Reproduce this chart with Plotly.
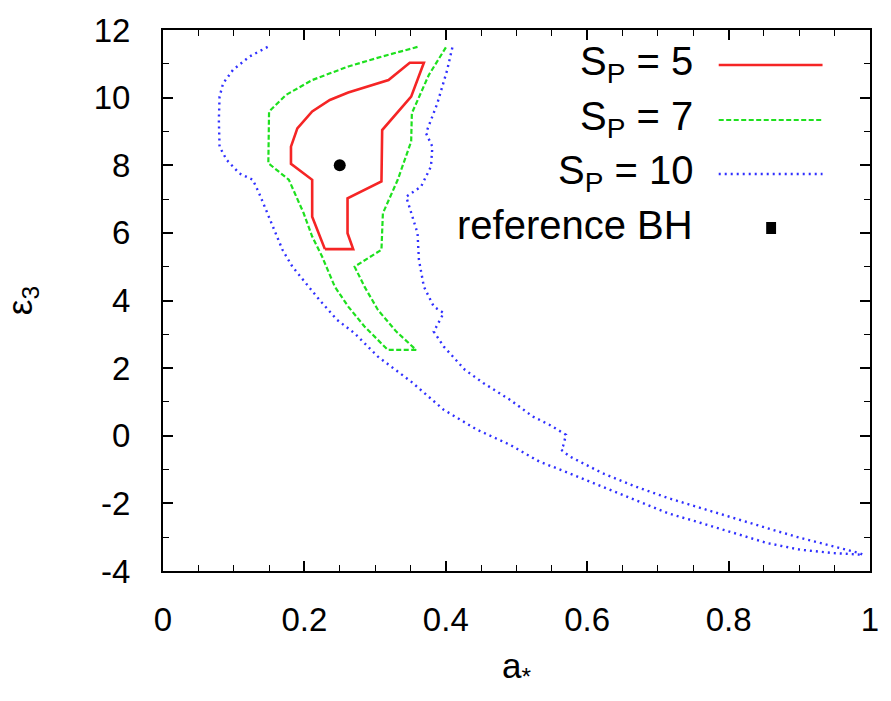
import plotly.graph_objects as go

# Contour of S_P = 5 (closed)
s5_a = [0.229, 0.269, 0.261, 0.261, 0.309, 0.310, 0.351, 0.369, 0.349, 0.319,
        0.262, 0.236, 0.211, 0.190, 0.181, 0.181, 0.211, 0.211, 0.229]
s5_e = [5.52, 5.52, 5.99, 7.02, 7.52, 9.04, 10.03, 11.03, 11.03, 10.52,
        10.15, 9.93, 9.59, 9.09, 8.55, 8.04, 7.57, 6.48, 5.52]

# Contour of S_P = 7 (open at the top edge of the grid)
s7_a = [0.360, 0.309, 0.262, 0.211, 0.174, 0.150, 0.149, 0.178, 0.199, 0.211,
        0.225, 0.243, 0.262, 0.285, 0.318, 0.358, 0.330, 0.304, 0.285, 0.271,
        0.309, 0.311, 0.332, 0.351, 0.352, 0.376, 0.402]
s7_e = [11.50, 11.21, 10.92, 10.52, 10.08, 9.59, 8.06, 7.57, 6.58, 5.89,
        5.30, 4.41, 3.82, 3.23, 2.54, 2.54, 3.08, 3.72, 4.41, 5.00,
        5.50, 6.58, 7.57, 8.70, 9.54, 10.67, 11.55]

# Contour of S_P = 10: outer (left/lower) branch down to the tip
s10_lo_a = [0.148, 0.122, 0.099, 0.085, 0.080, 0.079, 0.080, 0.090, 0.108, 0.127,
            0.136, 0.146, 0.155, 0.169, 0.183, 0.202, 0.222, 0.246, 0.271, 0.304,
            0.351, 0.397, 0.444, 0.491, 0.532, 0.576, 0.621, 0.668, 0.714, 0.761,
            0.808, 0.854, 0.901, 0.948, 0.990]
s10_lo_e = [11.50, 11.21, 10.82, 10.42, 10.03, 9.34, 8.55, 8.16, 7.76, 7.57,
            7.17, 6.68, 6.19, 5.50, 5.00, 4.51, 4.00, 3.43, 3.03, 2.34,
            1.60, 0.77, 0.18, -0.27, -0.76, -1.12, -1.50, -1.89, -2.29, -2.58,
            -2.88, -3.17, -3.37, -3.47, -3.52]
# inner (right/upper) branch, from the tip back up to the top edge
s10_hi_a = [0.985, 0.948, 0.901, 0.854, 0.808, 0.761, 0.714, 0.668, 0.621, 0.575,
            0.563, 0.566, 0.570, 0.547, 0.523, 0.491, 0.453, 0.427, 0.397, 0.383,
            0.397, 0.383, 0.369, 0.362, 0.360, 0.351, 0.344, 0.365, 0.379, 0.381,
            0.372, 0.388, 0.402, 0.410]
s10_hi_e = [-3.47, -3.27, -3.02, -2.73, -2.43, -2.14, -1.84, -1.50, -1.10, -0.61,
            -0.41, -0.30, 0.03, 0.32, 0.57, 1.06, 1.56, 1.95, 2.64, 3.08,
            3.63, 3.82, 4.41, 5.20, 5.99, 6.58, 7.07, 7.37, 7.96, 8.55,
            8.95, 9.83, 10.82, 11.55]

ref_bh_a = [0.25]
ref_bh_e = [8.0]

x_ticks = [0, 0.2, 0.4, 0.6, 0.8, 1]
x_tick_text = ["0", "0.2", "0.4", "0.6", "0.8", "1"]
y_ticks = [-4, -2, 0, 2, 4, 6, 8, 10, 12]
y_tick_text = ["-4", "-2", "0", "2", "4", "6", "8", "10", "12"]

legend_labels = ["S<sub>P</sub> = 5", "S<sub>P</sub> = 7", "S<sub>P</sub> = 10", "reference BH"]

RED = "#f52525"
GREEN = "#1ee01e"
BLUE = "#3030ff"
FONT = "Liberation Sans, Arial, sans-serif"

# plot-area geometry in pixels (used to place the hand-made key)
W, H = 891, 701
L, R, T, B = 163, 13, 30, 130
PW, PH = W - L - R, H - T - B


def px(x):
    return (x - L) / PW


def py(y):
    return (H - B - y) / PH


fig = go.Figure()
fig.add_trace(go.Scatter(x=s10_lo_a + s10_hi_a, y=s10_lo_e + s10_hi_e, mode="lines",
                         line=dict(color=BLUE, width=2.4, dash="2px,4px"),
                         showlegend=False))
fig.add_trace(go.Scatter(x=s7_a, y=s7_e, mode="lines",
                         line=dict(color=GREEN, width=2.2, dash="5px,2.5px"),
                         showlegend=False))
fig.add_trace(go.Scatter(x=s5_a, y=s5_e, mode="lines",
                         line=dict(color=RED, width=2.6), showlegend=False))
fig.add_trace(go.Scatter(x=ref_bh_a, y=ref_bh_e, mode="markers",
                         marker=dict(color="black", size=12), showlegend=False))

# key: right-aligned labels with the sample to their right
rows = [65, 120, 174, 228]
styles = [dict(color=RED, width=2.6), dict(color=GREEN, width=2.2, dash="5px,2.5px"),
          dict(color=BLUE, width=2.4, dash="2px,4px")]
for i, lab in enumerate(legend_labels):
    fig.add_annotation(x=px(701), y=py(rows[i] - (1 if i < 3 else 3)), xref="paper", yref="paper",
                       text=lab, showarrow=False, xanchor="right", yanchor="middle",
                       font=dict(family=FONT, size=40, color="black"))
    if i < 3:
        fig.add_shape(type="line", xref="paper", yref="paper",
                      x0=px(725), x1=px(830), y0=py(rows[i]), y1=py(rows[i]), line=styles[i])
    else:
        fig.add_shape(type="rect", xref="paper", yref="paper",
                      x0=px(773), x1=px(783), y0=py(rows[i] + 6), y1=py(rows[i] - 6),
                      line=dict(width=0), fillcolor="black")

axis_common = dict(showline=True, linewidth=2, linecolor="black", mirror="ticks",
                   ticks="inside", ticklen=10, tickwidth=1.6, tickcolor="black",
                   showgrid=False, zeroline=False,
                   tickfont=dict(family=FONT, size=33, color="black"))

fig.update_layout(
    width=W, height=H, autosize=False,
    margin=dict(l=L, r=R, t=T, b=B),
    plot_bgcolor="white", paper_bgcolor="white",
    xaxis=dict(range=[0, 1], tickmode="array", tickvals=x_ticks, ticktext=x_tick_text,
               minor=dict(tick0=0, dtick=0.05, ticks="inside", ticklen=6, tickwidth=1.4,
                          tickcolor="black", showgrid=False),
               ticklabelstandoff=18,
               title=dict(text="a<sub>*</sub>", font=dict(family=FONT, size=35, color="black"),
                          standoff=17),
               **axis_common),
    yaxis=dict(range=[-4, 12], tickmode="array", tickvals=y_ticks, ticktext=y_tick_text,
               minor=dict(tick0=0, dtick=1, ticks="inside", ticklen=6, tickwidth=1.4,
                          tickcolor="black", showgrid=False),
               ticklabelstandoff=24,
               title=dict(text="ε<sub>3</sub>", font=dict(family=FONT, size=35, color="black"),
                          standoff=52),
               **axis_common),
)

fig.write_html("out.html")
